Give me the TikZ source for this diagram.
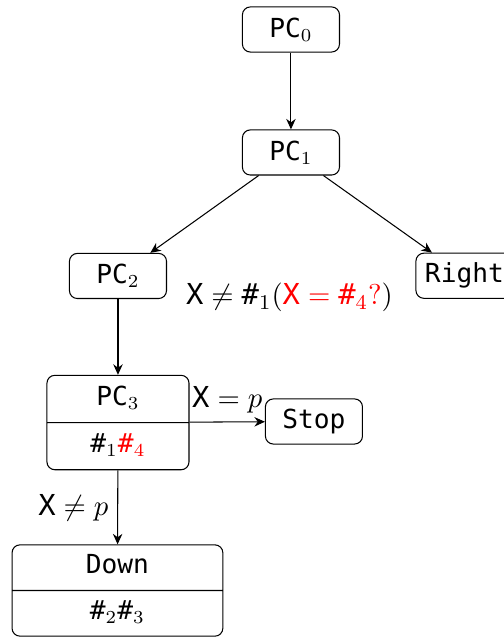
\documentclass[tikz,border=0pt]{standalone}
\usepackage{fontspec}
\setmonofont{DejaVu Sans Mono}
\usepackage{tikz}
\usetikzlibrary{shapes.multipart, arrows.meta, positioning}
\usepackage{amsmath, amssymb}

\tikzset{
  pcbox/.style={draw, rounded corners=3pt, font=\ttfamily, minimum width=37pt, minimum height=17.2pt, inner sep=2.5pt},
  splitbox/.style={draw, rounded corners=3pt, font=\ttfamily, rectangle split, rectangle split parts=2, align=center, inner ysep=2.8pt},
  guard/.style={font=\fontsize{11}{13}\selectfont},
  flow/.style={-{Stealth[length=4pt, width=3.6pt, inset=1.3pt]}}
}

\begin{document}
\begin{tikzpicture}
  \useasboundingbox (-3.899, -4.516) rectangle (2.854, 4.02);
  \clip (-3.899, -4.516) rectangle (2.854, 4.02);

  % === Top of the tree ===
  \node[pcbox] (pc0) at (0, 3.625) {PC$_0$};
  \node[pcbox] (pc1) at (0, 1.977) {PC$_1$};

  % Branches
  \node[pcbox] (pc2) at (-2.318, 0.322) {PC$_2$};
  \node[pcbox] (right) at (2.325, 0.325) {Right};

  % Condition
  \node[guard] (cond) at (-0.02, 0.03)
    {$\texttt{X} \neq \texttt{\#}_1(\textcolor{red}{\texttt{X} = \texttt{\#}_4?})$};

  % === Lower part ===
  \node[splitbox, text width=47.5pt] (pc3) at (-2.318, -1.642)
    {\strut PC$_3$ \nodepart{two} \strut$\texttt{\#}_1\textcolor{red}{\texttt{\#}_4}$};
  \node[pcbox] (stop) at (0.308, -1.628) {Stop};
  \node[splitbox, text width=73.7pt, inner ysep=2.5pt] (down) at (-2.325, -3.893)
    {\strut Down \nodepart{two} \strut$\texttt{\#}_2\texttt{\#}_3$};

  % Edges
  \draw[flow] (pc0) -- (pc1);
  \draw[flow] (pc1) -- (pc2);
  \draw[flow] (pc1) -- (right);
  \draw[flow] (pc2) -- (pc3);
  \draw[flow] (pc3) -- node[guard, above] {$\texttt{X} = p$} (stop);
  \draw[flow] (pc3) -- node[guard, left] {$\texttt{X} \neq p$} (down);
\end{tikzpicture}
\end{document}
